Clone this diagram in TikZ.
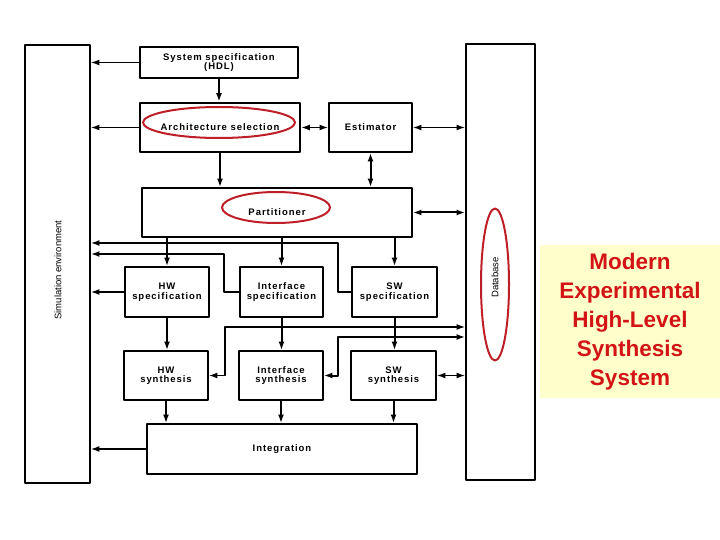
\documentclass[tikz,border=0pt]{standalone}
\usepackage{fontspec}
\setmainfont{Liberation Sans}
\newfontfamily\boxfont[LetterSpace=10]{Liberation Sans}
\usetikzlibrary{arrows.meta}
\definecolor{ringred}{RGB}{190,30,40}
\definecolor{notered}{RGB}{210,20,20}
\definecolor{notefill}{RGB}{255,255,204}
\begin{document}
\begin{tikzpicture}[x=1bp,y=-1bp,>={Latex[length=8.5bp,width=6bp]},line join=round,
		box/.style={draw,line width=1.9bp,inner sep=0pt,align=center,
			font=\boxfont\bfseries\fontsize{9.5bp}{9.5bp}\selectfont},
		sidetext/.style={font=\fontsize{9.5bp}{9.5bp}\selectfont,inner sep=0pt},
		ring/.style={draw=ringred,line width=2bp},
		flow/.style={line width=2bp},
		link/.style={line width=1.3bp},
		note/.style={fill=notefill,text=notered,align=center,inner sep=0pt,
			font=\bfseries\fontsize{22.5bp}{29bp}\selectfont}]
	\useasboundingbox (0,0) rectangle (720,540);
	% side columns
	\node[box,minimum width=65bp,minimum height=438bp] (sim) at (57.5,264) {};
	\node[sidetext,rotate=90] (simtext) at (58,270) {Simulation environment};
	\node[box,minimum width=69bp,minimum height=436bp] (db) at (500.5,262) {};
	\node[sidetext,rotate=90] (dbtext) at (495,277.5) {Database};
	\draw[ring] (495,284.5) ellipse [x radius=14bp, y radius=76bp];
	% flow boxes
	\node[box,minimum width=158bp,minimum height=31bp] (sysspec) at (219,62.5) {System specification\\(HDL)};
	\node[box,line width=2.6bp,minimum width=160bp,minimum height=49bp] (arch) at (220,127.5) {Architecture selection};
	\node[box,minimum width=83bp,minimum height=49bp] (est) at (370.5,127.5) {Estimator};
	\node[box,minimum width=270bp,minimum height=49bp] (part) at (277,212.5) {Partitioner};
	\node[box,minimum width=84bp,minimum height=50bp] (hwspec) at (167,292) {HW\\specification};
	\node[box,minimum width=83bp,minimum height=50bp] (ifspec) at (281.5,292) {Interface\\specification};
	\node[box,minimum width=85bp,minimum height=50bp] (swspec) at (394.5,292) {SW\\specification};
	\node[box,minimum width=84bp,minimum height=49bp] (hwsyn) at (166,375.5) {HW\\synthesis};
	\node[box,minimum width=84bp,minimum height=49bp] (ifsyn) at (281,375.5) {Interface\\synthesis};
	\node[box,minimum width=85bp,minimum height=49bp] (swsyn) at (393.5,375.5) {SW\\synthesis};
	\node[box,minimum width=270bp,minimum height=50bp] (integ) at (282,449) {Integration};
	\draw[ring] (219,122.5) ellipse [x radius=76bp, y radius=15.5bp];
	\draw[ring] (276,207.5) ellipse [x radius=54bp, y radius=15.5bp];
	% main flow
	\draw[flow,->] (sysspec.south) -- (sysspec.south |- arch.north);
	\draw[flow,->] (arch.south) -- (arch.south |- part.north);
	\draw[link,<->] (arch) -- (est);
	\draw[flow,<->] (est.south) -- (est.south |- part.north);
	\foreach \b in {hwspec,ifspec,swspec}
		\draw[flow,->] (\b.north |- part.south) -- (\b.north);
	\foreach \a/\b in {hwspec/hwsyn,ifspec/ifsyn,swspec/swsyn}
		\draw[flow,->] (\a.south) -- (\a.south |- \b.north);
	\foreach \b in {hwsyn,ifsyn,swsyn}
		\draw[flow,->] (\b.south) -- (\b.south |- integ.north);
	% to simulation environment
	\foreach \b in {sysspec,arch,hwspec,integ}
		\draw[link,->] (\b.west) -- (\b.west -| sim.east);
	\coordinate (iftap) at (224,254);
	\coordinate (swtap) at (338,243);
	\draw[flow,->] (ifspec.west) -| (iftap) -- (iftap -| sim.east);
	\draw[link,->] (swspec.west) -| (swtap) -- (swtap -| sim.east);
	% to database
	\draw[link,<->] (est.east) -- (est.east -| db.west);
	\draw[flow,<->] (part.east) -- (part.east -| db.west);
	\draw[link,<->] (swsyn.east) -- (swsyn.east -| db.west);
	\coordinate (hwtap) at (225,327);
	\coordinate (ifsyntap) at (338,337);
	\draw[link,<->] (hwsyn.east) -| (hwtap) -- (hwtap -| db.west);
	\draw[flow,<->] (ifsyn.east) -| (ifsyntap) -- (ifsyntap -| db.west);
	% caption
	\node[note,minimum width=180bp,minimum height=153bp] (note) at (630,321.5)
		{Modern\\Experimental\\High-Level\\Synthesis\\System};
\end{tikzpicture}
\end{document}
